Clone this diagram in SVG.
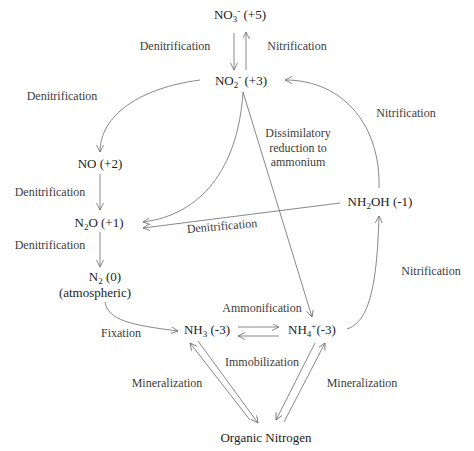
<svg xmlns="http://www.w3.org/2000/svg" width="474" height="451" viewBox="0 0 474 451" font-family="'Liberation Serif', 'Times New Roman', serif">
<style>
text{font-family:'Liberation Serif','Times New Roman',serif;fill:#333}
.n{font-size:13px;text-anchor:middle;fill:#222}
.l{font-size:12px;text-anchor:middle;fill:#3c3c3c}
.s{font-size:9px}
.c path{fill:none;stroke:#6a6a6a;stroke-width:0.8;marker-end:url(#a)}
</style>
<defs>
<marker id="a" markerUnits="userSpaceOnUse" markerWidth="9" markerHeight="8" refX="7" refY="3.5" orient="auto">
<path d="M0,0 L7,3.5 L0,7" fill="none" stroke="#6a6a6a" stroke-width="0.8"/>
</marker>
</defs>
<rect width="474" height="451" fill="#fff"/>
<g id="connectors" class="c">
<path d="M234,33 L234,70"/>
<path d="M246,70 L246,32"/>
<path d="M200,80 C140,88 100,115 100,152"/>
<path d="M100,174 L100,210"/>
<path d="M100,232 L100,267"/>
<path d="M105,302 C108,320 130,325 178,331"/>
<path d="M238,327 L279,327"/>
<path d="M279,336 L238,336"/>
<path d="M347,329 C368,322 377,290 379,216"/>
<path d="M379,188 C381,128 345,80 285,80"/>
<path d="M243,92 L312,317"/>
<path d="M243,92 C238,170 200,215 143,222"/>
<path d="M340,203 L143,228"/>
<path d="M250,420 L190,343"/>
<path d="M198,341 L258,423"/>
<path d="M315,343 L276,420"/>
<path d="M284,422 L325,343"/>
</g>
<g id="labels" font-family="'Liberation Serif', serif">
<text class="l" x="175" y="50">Denitrification</text>
<text class="l" x="297" y="50">Nitrification</text>
<text class="l" x="62" y="100">Denitrification</text>
<text class="l" x="50" y="196">Denitrification</text>
<text class="l" x="50" y="249">Denitrification</text>
<text class="l" x="121" y="337">Fixation</text>
<text class="l" x="262" y="312">Ammonification</text>
<text class="l" x="406" y="117">Nitrification</text>
<text class="l" x="298" y="137">Dissimilatory</text>
<text class="l" x="298" y="152">reduction to</text>
<text class="l" x="298" y="166">ammonium</text>
<text class="l" x="222" y="230" transform="rotate(-5 222 226)">Denitrification</text>
<text class="l" x="431" y="275">Nitrification</text>
<text class="l" x="262" y="366">Immobilization</text>
<text class="l" x="167" y="387">Mineralization</text>
<text class="l" x="362" y="387">Mineralization</text>
</g>
<g id="no3"><text class="n" x="240" y="19">NO<tspan class="s" dy="3">3</tspan><tspan class="s" dy="-8">-</tspan><tspan dy="5"> (+5)</tspan></text></g>
<g id="no2"><text class="n" x="241" y="85">NO<tspan class="s" dy="3">2</tspan><tspan class="s" dy="-8">-</tspan><tspan dy="5"> (+3)</tspan></text></g>
<g id="no"><text class="n" x="100" y="168">NO (+2)</text></g>
<g id="n2o"><text class="n" x="99" y="227">N<tspan class="s" dy="3">2</tspan><tspan dy="-3">O (+1)</tspan></text></g>
<g id="n2"><text class="n" x="105" y="281">N<tspan class="s" dy="3">2</tspan><tspan dy="-3"> (0)</tspan></text>
<text class="n" x="95" y="297">(atmospheric)</text></g>
<g id="nh3"><text class="n" x="207" y="334">NH<tspan class="s" dy="3">3</tspan><tspan dy="-3"> (-3)</tspan></text></g>
<g id="nh4"><text class="n" x="312" y="334">NH<tspan class="s" dy="3">4</tspan><tspan class="s" dy="-8">+</tspan><tspan dy="5">(-3)</tspan></text></g>
<g id="nh2oh"><text class="n" x="380" y="206">NH<tspan class="s" dy="3">2</tspan><tspan dy="-3">OH (-1)</tspan></text></g>
<g id="organic"><text class="n" x="266" y="442">Organic Nitrogen</text></g>
</svg>
